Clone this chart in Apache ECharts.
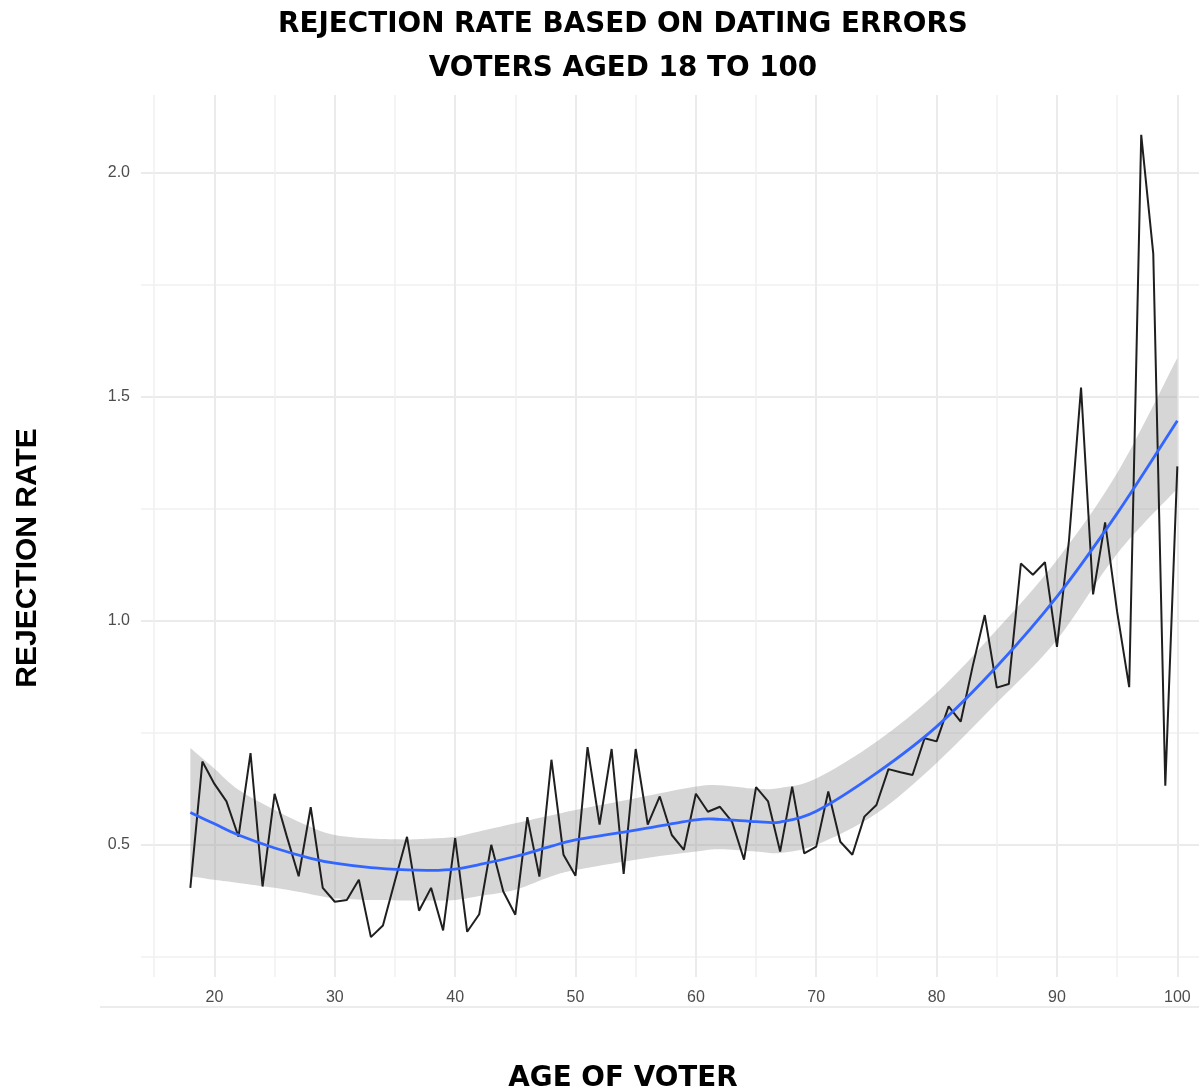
<!DOCTYPE html>
<html>
<head>
<meta charset="utf-8">
<script src="https://cdn.jsdelivr.net/npm/echarts@6/dist/echarts.min.js"></script>
<style>
html,body{margin:0;padding:0;background:#fff;}
#chart{width:1199px;height:1091px;}
</style>
</head>
<body>
<div id="chart"></div>
<script>
// Observed rejection rate by age
const ages = [18,19,20,21,22,23,24,25,26,27,28,29,30,31,32,33,34,35,36,37,38,39,40,41,42,43,44,45,46,47,48,49,50,51,52,53,54,55,56,57,58,59,60,61,62,63,64,65,66,67,68,69,70,71,72,73,74,75,76,77,78,79,80,81,82,83,84,85,86,87,88,89,90,91,92,93,94,95,96,97,98,99,100];
const rates = [0.404,0.686,0.636,0.597,0.518,0.705,0.407,0.614,0.52,0.43,0.584,0.404,0.373,0.377,0.422,0.294,0.32,0.42,0.518,0.353,0.404,0.309,0.515,0.306,0.345,0.50,0.396,0.344,0.562,0.429,0.69,0.478,0.431,0.718,0.545,0.714,0.435,0.714,0.545,0.608,0.522,0.489,0.614,0.574,0.585,0.552,0.467,0.629,0.597,0.485,0.63,0.481,0.496,0.619,0.507,0.478,0.563,0.589,0.669,0.662,0.656,0.738,0.731,0.809,0.775,0.899,1.013,0.851,0.859,1.128,1.103,1.131,0.942,1.18,1.521,1.059,1.22,1.02,0.852,2.085,1.82,0.632,1.345];

// Smoothed fit and confidence band
const fitAges  = [18,20,22,25,28,30,33,36,38,40,42,45,48,50,55,60,62,65,67,70,75,80,85,90,95,100];
const fitValue = [0.572,0.547,0.522,0.493,0.47,0.459,0.449,0.444,0.443,0.446,0.456,0.474,0.497,0.511,0.533,0.556,0.557,0.552,0.551,0.575,0.66,0.764,0.898,1.054,1.24,1.447];
const fitUpper = [0.716,0.67,0.623,0.578,0.54,0.522,0.514,0.512,0.514,0.518,0.53,0.548,0.566,0.578,0.604,0.63,0.633,0.625,0.627,0.648,0.73,0.839,0.98,1.136,1.33,1.587];
const fitLower = [0.43,0.422,0.415,0.404,0.39,0.381,0.377,0.376,0.376,0.377,0.386,0.40,0.43,0.444,0.467,0.485,0.49,0.485,0.482,0.50,0.57,0.683,0.817,0.958,1.15,1.295];

// Axis ticks
const xMajor = [20,30,40,50,60,70,80,90,100];
const xMinor = [15,25,35,45,55,65,75,85,95];
const yMajor = [0.5,1.0,1.5,2.0];
const yMinor = [0.25,0.75,1.25,1.75];

const chart = echarts.init(document.getElementById('chart'), null, {renderer:'canvas'});

const xRange = {min:13.9, max:101.8};
const yRange = {min:0.205, max:2.174};
const labelStyle = {color:'#4d4d4d', fontSize:16, fontFamily:'Liberation Sans, Arial, sans-serif'};
const headFont = 'DejaVu Sans, sans-serif';

// Catmull-Rom path through screen points (rendering only)
function splineSegs(pts, startWithMove){
  let d = (startWithMove ? 'M' : 'L') + pts[0][0] + ' ' + pts[0][1];
  for (let i = 0; i < pts.length - 1; i++) {
    const p0 = pts[i-1] || pts[i], p1 = pts[i], p2 = pts[i+1], p3 = pts[i+2] || pts[i+1];
    const c1 = [p1[0] + (p2[0]-p0[0])/6, p1[1] + (p2[1]-p0[1])/6];
    const c2 = [p2[0] - (p3[0]-p1[0])/6, p2[1] - (p3[1]-p1[1])/6];
    d += ' C' + c1[0] + ' ' + c1[1] + ' ' + c2[0] + ' ' + c2[1] + ' ' + p2[0] + ' ' + p2[1];
  }
  return d;
}

function renderBand(params, api){
  if (params.dataIndex !== 0) return null;
  const upperPts = [], lowerPts = [];
  for (let i = 0; i < fitAges.length; i++) {
    upperPts.push(api.coord([fitAges[i], fitUpper[i]]));
    lowerPts.push(api.coord([fitAges[i], fitLower[i]]));
  }
  lowerPts.reverse();
  const d = splineSegs(upperPts, true) + ' ' + splineSegs(lowerPts, false) + ' Z';
  return {
    type:'path',
    shape:{pathData:d},
    style:{fill:'rgba(153,153,153,0.4)', stroke:'none'}
  };
}

function renderFit(params, api){
  if (params.dataIndex !== 0) return null;
  const pts = fitAges.map((a,i)=>api.coord([a, fitValue[i]]));
  return {
    type:'path',
    shape:{pathData:splineSegs(pts, true)},
    style:{fill:'none', stroke:'#3366ff', lineWidth:2.8, lineJoin:'round'}
  };
}

const option = {
  backgroundColor:'#ffffff',
  animation:false,
  title:{
    text:'REJECTION RATE BASED ON DATING ERRORS\nVOTERS AGED 18 TO 100',
    left:618, top:-2, textAlign:'center',
    textStyle:{fontFamily:headFont, fontWeight:'bold', fontSize:27.8, lineHeight:44, color:'#000'}
  },
  grid:{left:141, right:0, top:95, bottom:114, containLabel:false, outerBoundsMode:'none'},
  xAxis:[
    {type:'value', min:xRange.min, max:xRange.max,
     name:'AGE OF VOTER', nameLocation:'middle', nameGap:102,
     nameTextStyle:{fontFamily:headFont, fontWeight:'bold', fontSize:27.8, color:'#000', verticalAlign:'middle', padding:[0,94,0,0]},
     axisLine:{show:false}, axisTick:{show:false, customValues:xMajor},
     axisLabel:{customValues:xMajor, margin:13, ...labelStyle},
     splitLine:{show:true, lineStyle:{color:'#ebebeb', width:2}}},
    {type:'value', min:xRange.min, max:xRange.max, position:'bottom',
     axisLine:{show:false}, axisTick:{show:false, customValues:xMinor},
     axisLabel:{show:false},
     splitLine:{show:true, lineStyle:{color:'#f0f0f0', width:1.5}}}
  ],
  yAxis:[
    {type:'value', min:yRange.min, max:yRange.max,
     name:'REJECTION RATE', nameLocation:'middle', nameGap:113, nameRotate:90,
     nameTextStyle:{fontFamily:'Liberation Sans, Arial, sans-serif', fontWeight:'bold', fontSize:30, color:'#000', verticalAlign:'middle', padding:[0,44,0,0]},
     axisLine:{show:false}, axisTick:{show:false, customValues:yMajor},
     axisLabel:{customValues:yMajor, margin:11, formatter:v=>v.toFixed(1), ...labelStyle},
     splitLine:{show:true, lineStyle:{color:'#ebebeb', width:2}}},
    {type:'value', min:yRange.min, max:yRange.max, position:'left',
     axisLine:{show:false}, axisTick:{show:false, customValues:yMinor},
     axisLabel:{show:false},
     splitLine:{show:true, lineStyle:{color:'#f0f0f0', width:1.5}}}
  ],
  graphic:[
    {type:'line', shape:{x1:100, y1:1007, x2:1199, y2:1007}, style:{stroke:'#e6e6e6', lineWidth:1.5}, silent:true}
  ],
  series:[
    {type:'custom', name:'band', silent:true, renderItem:renderBand,
     data:fitAges.map((a,i)=>[a, fitLower[i], fitUpper[i]]), encode:{x:0, y:[1,2]}, z:1, clip:true},
    {type:'line', name:'rate', symbol:'none', silent:true,
     data:ages.map((a,i)=>[a,rates[i]]), lineStyle:{color:'#1f1f1f', width:2}, z:2},
    {type:'custom', name:'fit', silent:true, renderItem:renderFit,
     data:fitAges.map((a,i)=>[a, fitValue[i]]), encode:{x:0, y:1}, z:3, clip:true}
  ]
};
chart.setOption(option);
</script>
</body>
</html>
